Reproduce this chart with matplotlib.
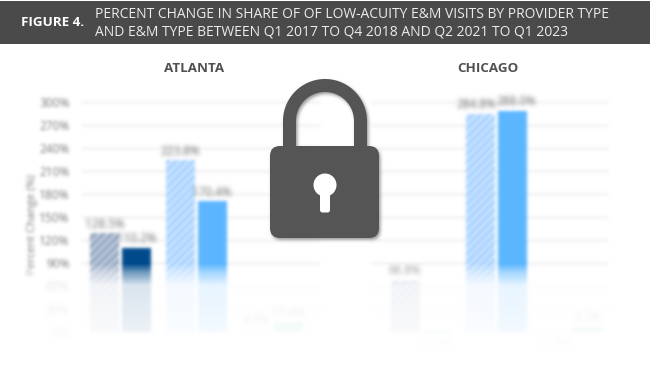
import numpy as np
import matplotlib
matplotlib.use("Agg")
import matplotlib.pyplot as plt
from matplotlib.path import Path
from matplotlib.patches import PathPatch, Rectangle, FancyBboxPatch, Circle
from matplotlib.ticker import FuncFormatter
from matplotlib.transforms import Affine2D

W, H = 650, 368

figure_tag = "FIGURE 4."
title_lines = ["PERCENT CHANGE IN SHARE OF OF LOW-ACUITY E&M VISITS BY PROVIDER TYPE",
               "AND E&M TYPE BETWEEN Q1 2017 TO Q4 2018 AND Q2 2021 TO Q1 2023"]
y_label = "Percent Change (%)"
y_ticks = [0, 30, 60, 90, 120, 150, 180, 210, 240, 270, 300]

atlanta_hatched = [128.5, 223.8, 4.3]
atlanta_solid = [110.2, 170.4, 13.4]
chicago_hatched = [66.8, 284.8, -1.6]
chicago_solid = [-1.2, 288.0, 6.2]
chicago_solid_labels = ["-1.2%", "288.0%", "8.2%"]
chicago_hatched_labels = ["66.8%", "284.8%", "-1.6%"]
atlanta_hatched_labels = ["128.5%", "223.8%", "4.3%"]
atlanta_solid_labels = ["110.2%", "170.4%", "13.4%"]

hatched_colors = ["#8fa3c0", "#a4d1ff", "#b5ecd2"]
solid_colors = ["#004a8c", "#5cb6ff", "#7fe0b5"]


def blur_filter(sigma):
    r = int(3 * sigma) + 1
    k = np.exp(-0.5 * (np.arange(-r, r + 1) / sigma) ** 2)
    k /= k.sum()

    def f(img, dpi):
        p = r + 1
        a = np.pad(img, ((p, p), (p, p), (0, 0)))
        a = a.copy()
        a[..., :3] *= a[..., 3:4]
        for axis in (0, 1):
            a = np.apply_along_axis(lambda v: np.convolve(v, k, mode="same"), axis, a)
        alpha = np.clip(a[..., 3:4], 1e-4, 1)
        a[..., :3] = np.clip(a[..., :3] / alpha, 0, 1)
        a[..., 3] = np.clip(a[..., 3], 0, 1)
        return a, -p, -p
    return f


plt.rcParams["font.family"] = ["Open Sans", "DejaVu Sans"]
plt.rcParams["hatch.linewidth"] = 1.6
fig = plt.figure(figsize=(W / 100, H / 100), dpi=100, facecolor="white")


def px_axes(x0, x1, y_top, y_bot, **kw):
    return fig.add_axes([x0 / W, 1 - y_bot / H, (x1 - x0) / W, (y_bot - y_top) / H], **kw)


BLUR = blur_filter(1.6)


def panel(ax, hatched, solid, h_labels, s_labels, xlim, show_y):
    ax.set_xlim(*xlim)
    ax.set_ylim(0, 300)
    ax.patch.set_alpha(0)
    for s in ax.spines.values():
        s.set_visible(False)
    ax.set_xticks([])
    ax.set_yticks(y_ticks)
    ax.yaxis.set_major_formatter(FuncFormatter(lambda v, _: f"{v:.0f}%"))
    ax.tick_params(length=0, labelleft=show_y, labelsize=8.6, labelcolor="#777777", pad=9)
    for v in y_ticks[1:]:
        ln = ax.axhline(v, color="#e2e2e2", lw=0.8, zorder=1)
        ln.set_agg_filter(BLUR)
    x = np.arange(3)
    bw, off = 0.385, 0.21
    b1 = ax.bar(x - off, hatched, bw, color=hatched_colors, edgecolor=(1, 1, 1, 0.6),
                hatch="////", linewidth=0, zorder=2, clip_on=False)
    b2 = ax.bar(x + off, solid, bw, color=solid_colors, linewidth=0, zorder=2, clip_on=False)
    for side, bars, vals, labels in ((-1, b1, hatched, h_labels), (1, b2, solid, s_labels)):
        for b, v, lab in zip(bars, vals, labels):
            b.set_agg_filter(BLUR)
            nudge = side * 3 if v > 280 else 0
            t = ax.annotate(lab, (b.get_x() + bw / 2, v), xytext=(nudge, 2 if v >= 0 else -3),
                            textcoords="offset points", ha="center",
                            va="bottom" if v >= 0 else "top",
                            fontsize=8.4, color="#666666", annotation_clip=False)
            t.set_agg_filter(BLUR)
    if show_y:
        for t in ax.get_yticklabels():
            t.set_agg_filter(BLUR)


ax1 = px_axes(82, 320, 102, 332)
panel(ax1, atlanta_hatched, atlanta_solid, atlanta_hatched_labels, atlanta_solid_labels,
      (-0.505, 2.63), True)
yl = fig.text(32 / W, 1 - 225 / H, y_label, rotation=90, ha="center", va="center",
              fontsize=8, color="#777777")
yl.set_agg_filter(BLUR)

ax2 = px_axes(372, 608, 102, 332)
panel(ax2, chicago_hatched, chicago_solid, chicago_hatched_labels, chicago_solid_labels,
      (-0.65, 2.475), False)

# page-space layer: fade, header, lock (pixel coordinates, y down)
top = fig.add_axes([0, 0, 1, 1], zorder=10)
top.set_xlim(0, W)
top.set_ylim(H, 0)
top.axis("off")
top.patch.set_alpha(0)

alpha = np.interp(np.arange(H), [0, 263, 272, 285, 332, 345, 368], [0, 0, 0.45, 0.86, 0.93, 0.97, 0.98])
fade = np.ones((H, 1, 4))
fade[..., 3] = alpha[:, None]
top.imshow(fade, extent=(0, W, H, 0), aspect="auto", interpolation="nearest", zorder=1)
top.set_xlim(0, W)
top.set_ylim(H, 0)

top.add_patch(Rectangle((0, 1), W, 43, fc="#4a4a4a", ec="none", zorder=2))
top.text(21, 22.5, figure_tag, color="white", fontsize=9.6, fontweight="bold",
         ha="left", va="center", zorder=3)
top.text(95, 15, title_lines[0], color="#ececec", fontsize=10.0, ha="left", va="center", zorder=3)
top.text(95, 32, title_lines[1], color="#ececec", fontsize=10.0, ha="left", va="center", zorder=3)
top.text(194.5, 69, "ATLANTA", color="#505050", fontsize=9.6, fontweight="bold",
         ha="center", va="center", zorder=3)
top.text(487.5, 69, "CHICAGO", color="#505050", fontsize=9.6, fontweight="bold",
         ha="center", va="center", zorder=3)


def lock(color, dx, dy, z, flt=None):
    tr = Affine2D().translate(dx, dy) + top.transData
    th = np.linspace(np.pi, 2 * np.pi, 60)
    verts = [(289.5, 150)] + [(325 + 35.5 * np.cos(a), 121 + 35.5 * np.sin(a)) for a in th] + [(360.5, 150)]
    sh = PathPatch(Path(verts), fc="none", ec=color, lw=13 * 0.72, zorder=z, transform=tr, capstyle="butt")
    body = FancyBboxPatch((280, 156), 89, 72, boxstyle="round,pad=10,rounding_size=10",
                          fc=color, ec="none", zorder=z, transform=tr)
    for p in (sh, body):
        top.add_patch(p)
        if flt:
            p.set_agg_filter(flt)


lock("#9a9a9a", 1.5, 2, 4, blur_filter(1.6))
lock("#555555", 0, 0, 5)
top.add_patch(Circle((325, 185), 11.5, fc="white", ec="none", zorder=6))
top.add_patch(FancyBboxPatch((322.5, 190), 5, 20, boxstyle="round,pad=2.5,rounding_size=2.5",
                             fc="white", ec="none", zorder=6))

fig.savefig("out.png", dpi=100, facecolor="white")
